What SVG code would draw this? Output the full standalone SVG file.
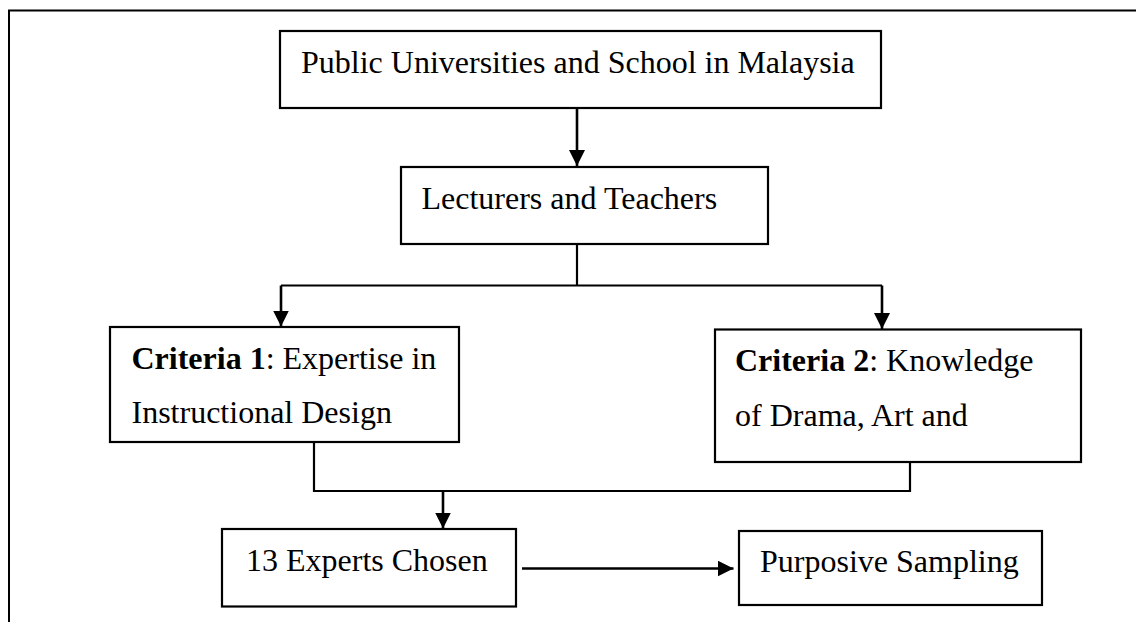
<svg xmlns="http://www.w3.org/2000/svg" width="1136" height="622" viewBox="0 0 1136 622">
<style>
.box{fill:#fff;stroke:#000;stroke-width:2.2}
.t{font-family:"Liberation Serif","Times New Roman",serif;font-size:32px;fill:#000}
.b{font-weight:bold}
.ln{fill:none;stroke:#000;stroke-width:2.2}
.ar{fill:none;stroke:#000;stroke-width:2.6;marker-end:url(#ah)}
</style>
<defs>
<marker id="ah" markerUnits="userSpaceOnUse" markerWidth="16" markerHeight="16" viewBox="0 0 16 16" refX="16" refY="8" orient="auto">
<path d="M0,0 L16,8 L0,16 Z" fill="#000"/>
</marker>
</defs>
<rect width="1136" height="622" fill="#fff"/>
<path d="M9,622 L9,10.5 L1136,10.5" fill="none" stroke="#000" stroke-width="2"/>
<g id="connectors">
<path class="ar" d="M577,108 L577,166"/>
<path class="ln" d="M577,244 L577,285.5 M281,285.5 L882,285.5"/>
<path class="ar" d="M281,285.5 L281,326.5"/>
<path class="ar" d="M882,285.5 L882,329"/>
<path class="ln" d="M314,442 L314,491 L910,491 L910,462"/>
<path class="ar" d="M443,491 L443,528.5"/>
<path class="ar" d="M522,568.5 L733.5,568.5"/>
</g>
<g id="n1">
<rect class="box" x="280" y="31" width="601" height="77"/>
<text class="t" x="301" y="73">Public Universities and School in Malaysia</text>
</g>
<g id="n2">
<rect class="box" x="401" y="167" width="367" height="77"/>
<text class="t" x="421.5" y="208.5">Lecturers and Teachers</text>
</g>
<g id="n3">
<rect class="box" x="110" y="327" width="349" height="115"/>
<text class="t" x="131.5" y="368.5"><tspan class="b">Criteria 1</tspan>: Expertise in</text>
<text class="t" x="131.5" y="423">Instructional Design</text>
</g>
<g id="n4">
<rect class="box" x="715" y="329.5" width="366" height="132.5"/>
<text class="t" x="735" y="370.5"><tspan class="b">Criteria 2</tspan>: Knowledge</text>
<text class="t" x="735" y="425.5">of Drama, Art and</text>
</g>
<g id="n5">
<rect class="box" x="222" y="529" width="294" height="77.5"/>
<text class="t" x="246" y="571">13 Experts Chosen</text>
</g>
<g id="n6">
<rect class="box" x="739" y="531" width="303" height="74"/>
<text class="t" x="760" y="571.5">Purposive Sampling</text>
</g>
</svg>
